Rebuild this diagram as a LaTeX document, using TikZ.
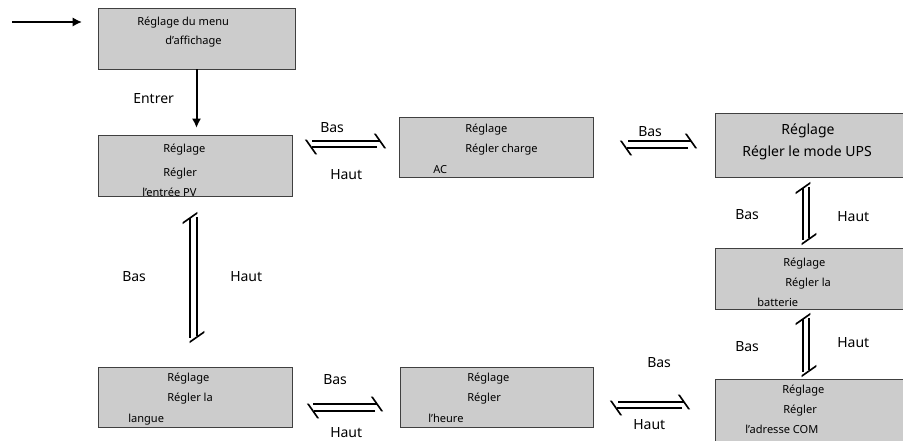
\documentclass[tikz,border=0pt]{standalone}
\usepackage{fontspec}
\setmainfont{Noto Sans}
\usetikzlibrary{arrows.meta,fit}
\definecolor{BoxClr}{rgb}{0.8,0.8,0.8}
\definecolor{EdgeClr}{rgb}{0.25,0.25,0.25}

\begin{document}
\begin{tikzpicture}[x=.75pt,y=-.75pt,
  box/.style={draw=EdgeClr,fill=BoxClr,line width=.7pt,inner sep=0pt},
  txt/.style={anchor=base west,inner sep=0pt,font=\fontsize{8.3}{10}\selectfont},
  lbl/.style={anchor=base west,inner sep=0pt,font=\fontsize{10.5}{12}\selectfont},
  arr/.style={line width=1.5pt,-{Latex[length=7pt,width=7pt]}},
  harp/.style={line width=1.5pt,-{Bar[width=11pt,slant=-.7]}}]
\useasboundingbox (0,0) rectangle (903,441);

\node[box,fit={(98,8) (295,69)}] (menu) {};
\node[box,fit={(98,135) (292,196)}] (pv) {};
\node[box,fit={(399,117) (593,177)}] (ac) {};
\node[box,fit={(715,113) (906,177)}] (ups) {};
\node[box,fit={(715,248) (906,309)}] (bat) {};
\node[box,fit={(715,379) (906,445)}] (com) {};
\node[box,fit={(98,367) (292,427)}] (langue) {};
\node[box,fit={(400,367) (593,427)}] (heure) {};

\coordinate (entry) at (12,22);
\coordinate (entryend) at (82,22);
\coordinate (pvac1) at (312,141);    \coordinate (pvac2) at (381,141);
\coordinate (acpv1) at (377,147);    \coordinate (acpv2) at (310,147);
\coordinate (acups1) at (628,141);   \coordinate (acups2) at (692,141);
\coordinate (upsac1) at (688,148);   \coordinate (upsac2) at (625,148);
\coordinate (batups1) at (803,240);  \coordinate (batups2) at (803,187);
\coordinate (upsbat1) at (809,187);  \coordinate (upsbat2) at (809,240);
\coordinate (combat1) at (803,372);  \coordinate (combat2) at (803,318);
\coordinate (batcom1) at (809,318);  \coordinate (batcom2) at (809,372);
\coordinate (languepv1) at (190,338); \coordinate (languepv2) at (190,217);
\coordinate (pvlangue1) at (197,217); \coordinate (pvlangue2) at (197,338);
\coordinate (langueheure1) at (313,404); \coordinate (langueheure2) at (378,404);
\coordinate (heurelangue1) at (375,411); \coordinate (heurelangue2) at (312,411);
\coordinate (heurecom1) at (618,402); \coordinate (heurecom2) at (685,402);
\coordinate (comheure1) at (682,408); \coordinate (comheure2) at (615,408);


\draw[arr] (entry) -- (entryend);
\draw[arr,shorten >=5pt] (menu.south) -- (menu.south |- pv.north);

\draw[harp] (pvac1) -- (pvac2);
\draw[harp] (acpv1) -- (acpv2);
\draw[harp] (acups1) -- (acups2);
\draw[harp] (upsac1) -- (upsac2);
\draw[harp] (batups1) -- (batups2);
\draw[harp] (upsbat1) -- (upsbat2);
\draw[harp] (combat1) -- (combat2);
\draw[harp] (batcom1) -- (batcom2);
\draw[harp] (languepv1) -- (languepv2);
\draw[harp] (pvlangue1) -- (pvlangue2);
\draw[harp] (langueheure1) -- (langueheure2);
\draw[harp] (heurelangue1) -- (heurelangue2);
\draw[harp] (heurecom1) -- (heurecom2);
\draw[harp] (comheure1) -- (comheure2);


\node[txt] at (137,26) {Réglage du menu};
\node[txt] at (165,45) {d'affichage};

\node[txt] at (163,153) {Réglage};
\node[txt] at (163,177) {Régler};
\begin{scope}
\clip (pv.south west) rectangle (pv.north east);
\node[txt] at (142,197) {l'entrée PV};
\end{scope}

\node[txt] at (465,133) {Réglage};
\node[txt] at (465,153) {Régler charge};
\node[txt] at (433,174) {AC};

\node[lbl,anchor=base] at (808,135) {Réglage};
\node[lbl,anchor=base] at (807,157) {Régler le mode UPS};

\node[txt] at (783,267) {Réglage};
\node[txt] at (785,287) {Régler la};
\node[txt] at (757,307) {batterie};

\node[txt] at (782,394) {Réglage};
\node[txt] at (783,414) {Régler};
\node[txt] at (745,434) {l'adresse COM};

\node[txt] at (167,382) {Réglage};
\node[txt] at (167,402) {Régler la};
\node[txt] at (128,422) {langue};

\node[txt] at (467,382) {Réglage};
\node[txt] at (467,402) {Régler};
\node[txt] at (428,422) {l'heure};


\node[lbl] at (133,104) {Entrer};
\node[lbl] at (320,133) {Bas};
\node[lbl] at (330,180) {Haut};
\node[lbl] at (638,137) {Bas};
\node[lbl] at (735,220) {Bas};
\node[lbl] at (837,222) {Haut};
\node[lbl] at (735,352) {Bas};
\node[lbl] at (837,348) {Haut};
\node[lbl] at (122,282) {Bas};
\node[lbl] at (230,282) {Haut};
\node[lbl] at (323,385) {Bas};
\node[lbl] at (330,437) {Haut};
\node[lbl] at (647,368) {Bas};
\node[lbl] at (633,430) {Haut};

\end{tikzpicture}
\end{document}
